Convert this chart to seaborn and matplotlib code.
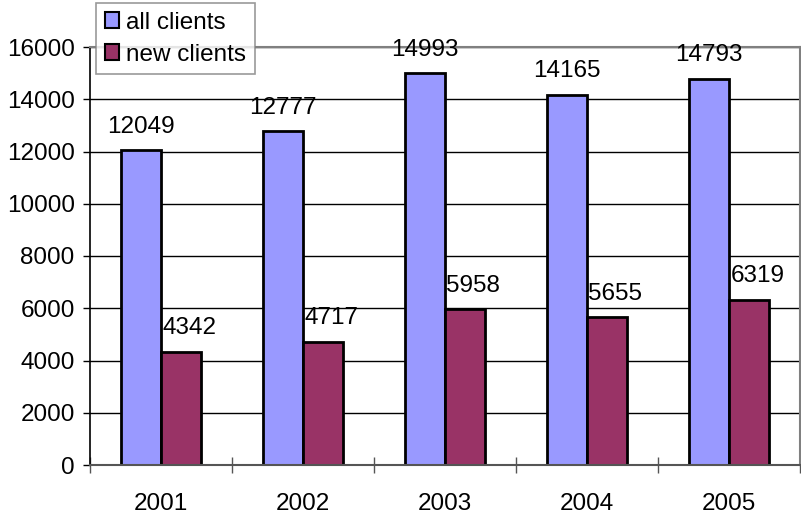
import pandas as pd
import matplotlib
matplotlib.use("Agg")
import matplotlib.pyplot as plt
import seaborn as sns

# data
years = ["2001", "2002", "2003", "2004", "2005"]
all_clients = [12049, 12777, 14993, 14165, 14793]
new_clients = [4342, 4717, 5958, 5655, 6319]
series_names = ["all clients", "new clients"]
y_ticks = [0, 2000, 4000, 6000, 8000, 10000, 12000, 14000, 16000]

df = pd.DataFrame({
    "year": years * 2,
    "clients": all_clients + new_clients,
    "series": [series_names[0]] * len(years) + [series_names[1]] * len(years),
})

FS = 17.5

sns.set_style("white")
plt.rcParams["font.family"] = ["Liberation Sans", "DejaVu Sans"]
plt.rcParams["font.size"] = FS
plt.rcParams["text.color"] = "black"
plt.rcParams["xtick.labelcolor"] = "black"
plt.rcParams["ytick.labelcolor"] = "black"

fig = plt.figure(figsize=(8.01, 5.16), dpi=100)
ax = fig.add_axes([90 / 801, 1 - 465 / 516, 710 / 801, 418 / 516])

sns.barplot(data=df, x="year", y="clients", hue="series",
            palette=["#9999FF", "#993366"], width=0.565, gap=0,
            edgecolor="black", linewidth=2, saturation=1, ax=ax)

ax.set_ylim(0, 16000)
ax.set_xlim(-0.5, 4.5)
ax.set_yticks(y_ticks)
ax.set_xlabel("")
ax.set_ylabel("")
ax.yaxis.grid(True, color="black", linewidth=1)
ax.set_axisbelow(True)

for s in ["top", "right"]:
    ax.spines[s].set_color("#808080")
    ax.spines[s].set_linewidth(1.5)
ax.spines["left"].set_color("black")
ax.spines["left"].set_linewidth(1.2)
ax.spines["bottom"].set_color("#555555")
ax.spines["bottom"].set_linewidth(1.5)

# y ticks point outward, category boundary ticks cross the x axis
ax.tick_params(axis="y", direction="out", length=5, width=1, pad=6,
               color="black", labelcolor="black", left=True, labelsize=FS)
ax.tick_params(axis="x", which="major", length=0, pad=20,
               labelcolor="black", labelsize=FS)
ax.set_xticks([i + 0.5 for i in range(-1, len(years))], minor=True)
ax.tick_params(axis="x", which="minor", direction="inout", length=11.5,
               width=1, color="#555555", bottom=True)

# value labels above the bars
for i, cont in enumerate(ax.containers):
    for bar in cont:
        h = bar.get_height()
        if i == 0:
            ax.annotate(f"{h:.0f}", (bar.get_x() + bar.get_width() / 2, h),
                        xytext=(0, 9), textcoords="offset points",
                        ha="center", va="bottom", fontsize=FS, color="black")
        else:
            ax.annotate(f"{h:.0f}", (bar.get_x(), h),
                        xytext=(1, 9), textcoords="offset points",
                        ha="left", va="bottom", fontsize=FS, color="black")

leg = ax.legend(loc="upper left", bbox_to_anchor=(96 / 801, 1 - 3 / 516),
                bbox_transform=fig.transFigure, borderaxespad=0,
                fancybox=False, shadow=False, frameon=True, fontsize=FS,
                handlelength=0.6, handleheight=0.6, handletextpad=0.3,
                labelspacing=0.42, borderpad=0.35)
leg.get_frame().set_edgecolor("#808080")
leg.get_frame().set_linewidth(1.2)
for p in leg.get_patches():
    p.set_edgecolor("black")
    p.set_linewidth(1.5)
for t in leg.get_texts():
    t.set_color("black")

fig.savefig("out.png", dpi=100)
